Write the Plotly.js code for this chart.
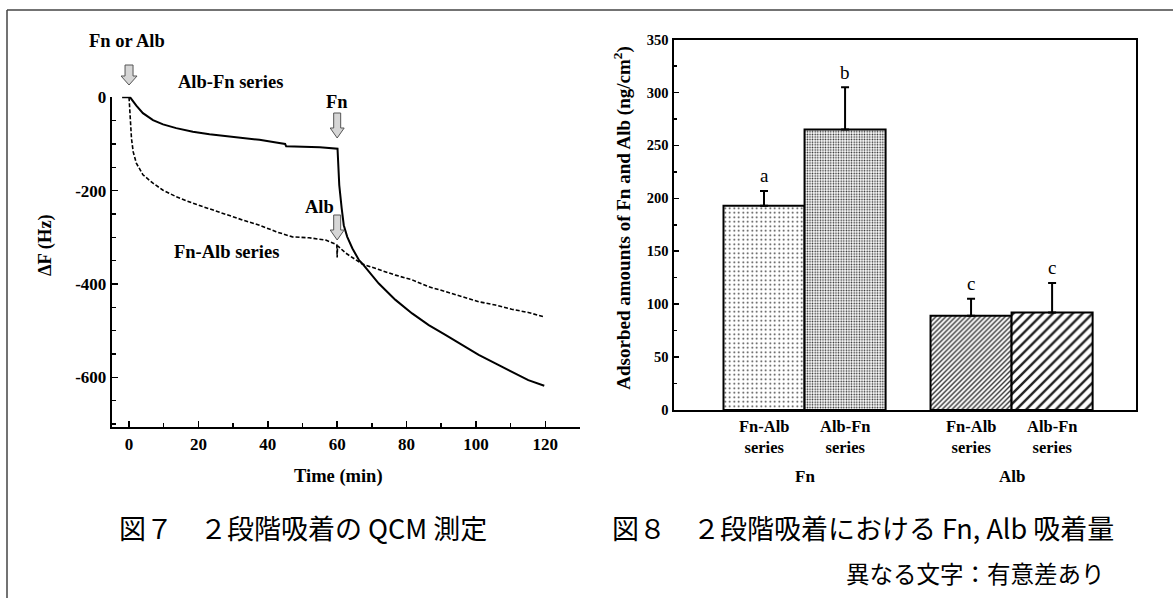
<!DOCTYPE html>
<html>
<head>
<meta charset="utf-8">
<script src="https://cdn.plot.ly/plotly-3.0.1.min.js"></script>
<style>html,body{margin:0;padding:0;background:#fff;}#chart{width:1173px;height:598px;}</style>
</head>
<body>
<div id="chart"></div>
<script>
// ---------- Fig. 7 data (QCM) ----------
const timeAlbFn = [-2, 0.3, 2.1, 4.0, 6.9, 9.8, 13.6, 18.4, 23.2, 28, 32.8, 37.6, 42.4, 45, 45.3, 50, 55, 60.1, 60.3, 60.6, 61.3, 61.9, 62.9, 64.4, 66.3, 67.2, 72, 76.8, 81.6, 86.4, 91.2, 96, 100.8, 105.6, 110.3, 115.1, 119.7];
const dfAlbFn   = [0, 0, -18, -34, -49, -58, -66, -74, -79, -83, -88, -91, -97, -100, -105, -106, -107, -110, -156, -188, -238, -274, -299, -324, -349, -356, -399, -434, -463, -488, -509, -531, -552, -570, -588, -606, -618];
const timeFnAlb = [0, 0.2, 0.7, 1.2, 2.1, 4.0, 6.9, 9.8, 13.6, 18.4, 23.2, 28, 32.8, 37.6, 42.4, 47.1, 51.9, 56.7, 59.6, 59.9, 60.0, 60.1, 62.5, 66.1, 67.2, 72, 76.8, 81.6, 86.4, 91.2, 96, 100.8, 105.6, 110.3, 115.1, 119.4];
const dfFnAlb   = [0, -31, -88, -117, -141, -166, -184, -199, -213, -227, -239, -252, -263, -274, -288, -299, -301, -306, -314, -316, -343, -318, -334, -351, -357, -369, -381, -391, -406, -416, -427, -438, -445, -454, -461, -470];
const timeTicks = [0, 20, 40, 60, 80, 100, 120];
const timeTickText = ['0', '20', '40', '60', '80', '100', '120'];
const dfTicks = [0, -200, -400, -600];
const dfTickText = ['0', '-200', '-400', '-600'];
const injectionTimes = [0, 60, 60];

// ---------- Fig. 8 data (adsorbed amounts) ----------
const proteins = ['Fn', 'Alb'];
const seriesNames = ['Fn-Alb series', 'Alb-Fn series'];
const fnAlbValues = [193, 89];
const fnAlbSD = [14, 16];
const albFnValues = [265, 92];
const albFnSD = [40, 28];
const sigLettersFnAlb = ['a', 'c'];
const sigLettersAlbFn = ['b', 'c'];

// ---------- helpers ----------
const W = 1173, H = 598;
const px = x => x / W;
const py = y => 1 - y / H;
const serif = {family: 'Liberation Serif', color: '#000'};
const bold = (size) => Object.assign({}, serif, {size: size, weight: 'bold'});
const cjk = (size) => ({family: 'Noto Sans CJK JP', size: size, color: '#000'});

const BARGAP = 0.217;
const barW = (1 - BARGAP) / 2;

function arrowPath(w, sw, h, hh) {
  return `M0,0 L${w/2},${hh} L${sw/2},${hh} L${sw/2},${h} L${-sw/2},${h} L${-sw/2},${hh} L${-w/2},${hh} Z`;
}

const traces = [
  {type: 'scatter', mode: 'lines', x: timeAlbFn, y: dfAlbFn, xaxis: 'x', yaxis: 'y',
   line: {color: '#000', width: 2}, name: 'Alb-Fn series', hoverinfo: 'skip'},
  {type: 'scatter', mode: 'lines', x: timeFnAlb, y: dfFnAlb, xaxis: 'x', yaxis: 'y',
   line: {color: '#000', width: 1.6, dash: '4px,2px'}, name: 'Fn-Alb series', hoverinfo: 'skip'},
  {type: 'bar', x: proteins, y: fnAlbValues, xaxis: 'x2', yaxis: 'y2', name: seriesNames[0],
   marker: {color: '#fff', line: {color: '#000', width: 2},
     pattern: {shape: ['.', '/'], size: [4.5, 3.5], solidity: [0.12, 0.4], fgcolor: '#333', bgcolor: '#fff', fillmode: 'replace'}},
   error_y: {type: 'data', symmetric: false, array: fnAlbSD, arrayminus: [0, 0], color: '#000', thickness: 2, width: 4}},
  {type: 'bar', x: proteins, y: albFnValues, xaxis: 'x2', yaxis: 'y2', name: seriesNames[1],
   marker: {color: '#fff', line: {color: '#000', width: 2},
     pattern: {shape: ['.', '/'], size: [2.6, 7], solidity: [0.3, 0.35], fgcolor: '#222', bgcolor: '#fff', fillmode: 'replace'}},
   error_y: {type: 'data', symmetric: false, array: albFnSD, arrayminus: [0, 0], color: '#000', thickness: 2, width: 4}}
];

const annotations = [];
function ann(o) { annotations.push(Object.assign({showarrow: false, xanchor: 'center', yanchor: 'middle', xref: 'paper', yref: 'paper'}, o)); }

// Fig.7 labels
ann({text: 'Fn or Alb', x: px(126.5), y: py(41), font: bold(18.5)});
ann({text: 'Alb-Fn series', x: px(230), y: py(82), font: bold(18.5)});
ann({text: 'Fn', xref: 'x', x: injectionTimes[1], y: py(102), font: bold(18.5)});
ann({text: 'Alb', x: px(319), y: py(207), font: bold(18.5)});
ann({text: 'Fn-Alb series', x: px(226), y: py(252), font: bold(18.5)});
ann({text: 'ΔF (Hz)', x: px(45), y: py(245), textangle: -90, font: bold(18.5)});
ann({text: 'Time (min)', x: px(338), y: py(476.7), font: bold(18.5)});
ann({text: '図７　２段階吸着の QCM 測定', x: px(303), y: py(527), font: cjk(27)});

// Fig.8 labels
ann({text: 'Adsorbed amounts of Fn and Alb (ng/cm<sup>2</sup>)', x: px(621.7), y: py(218), textangle: -90, font: bold(19)});
proteins.forEach((p, i) => {
  [0, 1].forEach(j => {
    const xc = i + (j - 0.5) * barW;
    const sub = seriesNames[j].replace(' ', '<br>');
    ann({text: sub, xref: 'x2', x: xc, y: py(436.7), font: bold(16.5)});
    const val = j === 0 ? fnAlbValues[i] + fnAlbSD[i] : albFnValues[i] + albFnSD[i];
    const letter = j === 0 ? sigLettersFnAlb[i] : sigLettersAlbFn[i];
    ann({text: letter, xref: 'x2', yref: 'y2', x: xc, y: val, yshift: 15, font: Object.assign({}, serif, {size: 19})});
  });
  ann({text: p, xref: 'x2', x: i, y: py(476), font: bold(17)});
});
ann({text: '図８　２段階吸着における Fn, Alb 吸着量', x: px(863), y: py(527), font: cjk(27)});
ann({text: '異なる文字：有意差あり', x: px(975), y: py(573), font: cjk(23.5)});

const arrowStyle = {fillcolor: '#d6d6d6', line: {color: '#555', width: 1}};
const shapes = [
  {type: 'line', xref: 'paper', yref: 'paper', x0: px(7), x1: 1, y0: py(10), y1: py(10), line: {color: '#444', width: 1.5}},
  {type: 'line', xref: 'paper', yref: 'paper', x0: px(7), x1: px(7), y0: py(10), y1: 0, line: {color: '#444', width: 1.5}},
  Object.assign({type: 'path', xref: 'x', yref: 'paper', xsizemode: 'pixel', ysizemode: 'pixel',
    xanchor: injectionTimes[0], yanchor: py(85), path: arrowPath(16, 8, 20, 9)}, arrowStyle),
  Object.assign({type: 'path', xref: 'x', yref: 'paper', xsizemode: 'pixel', ysizemode: 'pixel',
    xanchor: injectionTimes[1], yanchor: py(138), path: arrowPath(14, 7, 25, 10)}, arrowStyle),
  Object.assign({type: 'path', xref: 'x', yref: 'paper', xsizemode: 'pixel', ysizemode: 'pixel',
    xanchor: injectionTimes[2], yanchor: py(240), path: arrowPath(14, 7, 25, 10)}, arrowStyle)
];

const tickCommon = {ticks: 'inside', tickcolor: '#000', tickwidth: 1.5, showline: true, linecolor: '#000', linewidth: 2, showgrid: false, zeroline: false};

const layout = {
  width: W, height: H, margin: {l: 0, r: 0, t: 0, b: 0},
  paper_bgcolor: '#fff', plot_bgcolor: 'rgba(0,0,0,0)', showlegend: false,
  barmode: 'group', bargap: BARGAP, bargroupgap: 0,
  xaxis: Object.assign({}, tickCommon, {
    domain: [px(111.7), px(580)], range: [-5, 130], anchor: 'y',
    tickmode: 'array', tickvals: timeTicks, ticktext: timeTickText, ticklen: 6,
    minor: {tickmode: 'linear', tick0: 0, dtick: 10, ticks: 'inside', ticklen: 4, tickwidth: 1.5, tickcolor: '#000', showgrid: false},
    tickfont: bold(17)}),
  yaxis: Object.assign({}, tickCommon, {
    domain: [py(427.3), py(96.7)], range: [-707, 1.3], anchor: 'x',
    tickmode: 'array', tickvals: dfTicks, ticktext: dfTickText, ticklen: 6,
    minor: {tickmode: 'linear', tick0: 0, dtick: 50, ticks: 'inside', ticklen: 4, tickwidth: 1.5, tickcolor: '#000', showgrid: false},
    tickfont: bold(17)}),
  xaxis2: {domain: [px(673.5), px(1136)], anchor: 'y2', type: 'category', range: [-0.633, 1.601],
    showticklabels: false, ticks: '', showline: true, mirror: true, linecolor: '#000', linewidth: 2, showgrid: false, zeroline: false},
  yaxis2: Object.assign({}, tickCommon, {
    domain: [py(410), py(39.5)], range: [0, 350], anchor: 'x2', mirror: true,
    tickmode: 'linear', tick0: 0, dtick: 50, ticklen: 5,
    minor: {tickmode: 'linear', tick0: 0, dtick: 25, ticks: 'inside', ticklen: 3, tickwidth: 1.5, tickcolor: '#000', showgrid: false},
    tickfont: bold(14.5)}),
  annotations: annotations,
  shapes: shapes
};

Plotly.newPlot('chart', traces, layout, {displayModeBar: false, staticPlot: true});
</script>
</body>
</html>
